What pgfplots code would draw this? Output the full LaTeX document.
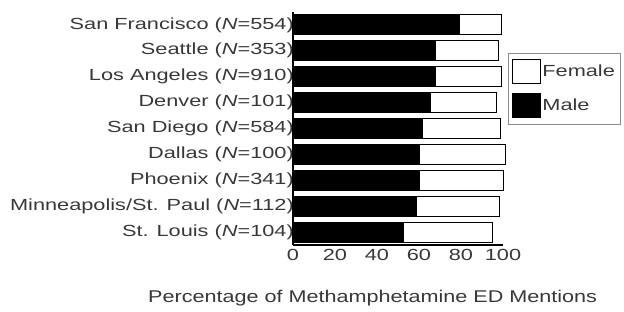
\documentclass[border=0pt]{standalone}
\usepackage{pgfplots}
\pgfplotsset{compat=1.18}
\usepackage{pgfplotstable}
\usepackage{fontspec}
\setmainfont{Liberation Sans}[FakeStretch=1.35]
\newfontfamily\xlabfont{Liberation Sans}[FakeStretch=1.27]
\pgfplotstableread{
y male female
0 52.5 42.7
1 59.0 39.1
2 60.3 40.0
3 60.3 41.1
4 61.6 37.4
5 65.4 31.4
6 67.9 31.3
7 67.9 30.0
8 79.3 19.9
}\data
\begin{document}
\begin{tikzpicture}
\path[use as bounding box] (0pt,0pt) rectangle (624pt,312pt);
\begin{axis}[
  at={(293pt,67pt)}, anchor=south west,
  scale only axis, width=210pt, height=233pt,
  xbar stacked, bar width=0.77,
  xmin=0, xmax=100, ymin=-0.5, ymax=8.5,
  clip=false,
  axis x line*=bottom, axis y line*=left,
  axis line style={line width=1.6pt, -},
  xtick={0,20,40,60,80,100},
  ytick={0,...,8},
  yticklabels={St. Louis (\textit{N}=104), Minneapolis/St. Paul (\textit{N}=112), Phoenix (\textit{N}=341), Dallas (\textit{N}=100), San Diego (\textit{N}=584), Denver (\textit{N}=101), Los Angeles (\textit{N}=910), Seattle (\textit{N}=353), San Francisco (\textit{N}=554)},
  tick style={black, line width=1pt},
  major tick length=3pt,
  y tick style={draw=none},
  x tick style={draw=none},
  /pgf/number format/assume math mode=true,
  tick label style={font=\fontsize{16.1}{18}\selectfont, text=black!78},
  yticklabel style={inner sep=1pt, xshift=2pt},
  xticklabel style={inner sep=1pt, yshift=-3pt},
  xlabel={Percentage of Methamphetamine ED Mentions},
  xlabel style={font=\xlabfont\fontsize{17}{19}\selectfont, text=black!78, at={(axis description cs:0.379,-0.227)}, anchor=center},
  legend style={at={(1.024,0.824)}, anchor=north west, draw=black!45, line width=0.8pt,
    font=\fontsize{16.1}{18}\selectfont, text=black!78,
    inner xsep=4pt, inner ysep=6pt, row sep=9pt, nodes={inner sep=1pt, anchor=west}},
  legend cell align=left,
  reverse legend,
  legend image code/.code={\draw[#1, line width=1pt] (0pt,-12pt) rectangle (28pt,12pt);},
]
\addplot[fill=black, draw=black, line width=1pt] table[x=male, y=y] {\data};
\addplot[fill=white, draw=black, line width=1pt] table[x=female, y=y] {\data};
\legend{Male, Female}
\end{axis}
\end{tikzpicture}
\end{document}
